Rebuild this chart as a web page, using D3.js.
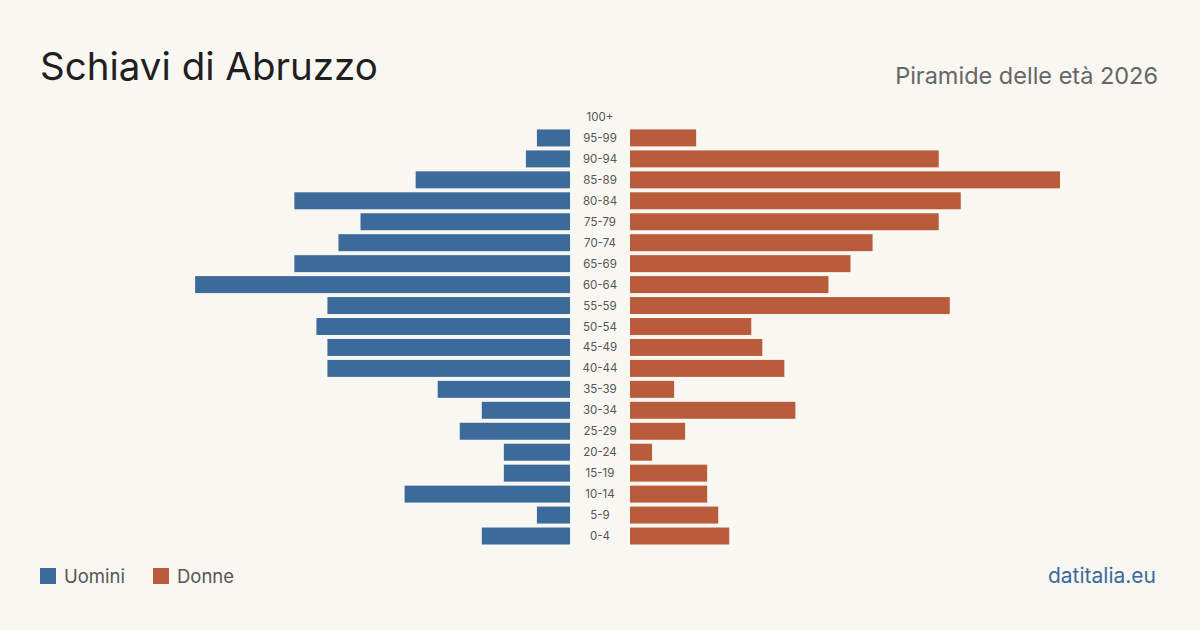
<!DOCTYPE html>
<html><head><meta charset="utf-8">
<script src="https://cdn.jsdelivr.net/npm/d3@7"></script>
<style>body{margin:0;background:#f9f7f2;font-family:Inter,"Noto Sans",sans-serif}</style>
</head><body><svg id="c" width="1200" height="630"></svg>
<script>
const ageGroups = ["100+","95-99","90-94","85-89","80-84","75-79","70-74","65-69","60-64","55-59","50-54","45-49","40-44","35-39","30-34","25-29","20-24","15-19","10-14","5-9","0-4"];
const men =   [0,3,4,14,25,19,21,25,34,22,23,22,22,12,8,10,6,6,15,3,8];
const women = [0,6,28,39,30,28,22,20,18,29,11,12,14,4,15,5,2,7,7,8,9];

const svg = d3.select("#c");
svg.append("rect").attr("width",1200).attr("height",630).attr("fill","#f9f7f2");

const y = d3.scaleBand().domain(ageGroups).range([108.5, 544.5]).paddingInner(0.19);
const xL = d3.scaleLinear().domain([0, 39]).range([570, 140]);
const xR = d3.scaleLinear().domain([0, 39]).range([630, 1060]);

svg.append("g").selectAll("rect").data(ageGroups).join("rect")
  .attr("x", (d,i) => xL(men[i])).attr("y", d => y(d))
  .attr("width", (d,i) => xL(0) - xL(men[i])).attr("height", y.bandwidth())
  .attr("fill", "#3b6a9b");
svg.append("g").selectAll("rect").data(ageGroups).join("rect")
  .attr("x", xR(0)).attr("y", d => y(d))
  .attr("width", (d,i) => xR(women[i]) - xR(0)).attr("height", y.bandwidth())
  .attr("fill", "#b95c3c");
svg.append("g").selectAll("text").data(ageGroups).join("text")
  .attr("x", 600).attr("y", d => y(d) + y.bandwidth()/2).attr("dy","0.35em")
  .attr("text-anchor","middle").attr("font-size",11.5).attr("fill","#555").text(d => d);

svg.append("text").attr("x",40).attr("y",80).attr("font-size",38.5).attr("fill","#1f1f1f").text("Schiavi di Abruzzo");
svg.append("text").attr("x",1158).attr("y",84).attr("text-anchor","end").attr("font-size",23.5).attr("fill","#666").text("Piramide delle età 2026");

const legend = [["Uomini","#3b6a9b",40],["Donne","#b95c3c",153]];
legend.forEach(([t,c,x]) => {
  svg.append("rect").attr("x",x).attr("y",568).attr("width",16).attr("height",16).attr("fill",c);
  svg.append("text").attr("x",x+24).attr("y",583).attr("font-size",18.5).attr("fill","#555").text(t);
});
svg.append("text").attr("x",1156).attr("y",583).attr("text-anchor","end").attr("font-size",21).attr("fill","#3b6a9b").text("datitalia.eu");
</script></body></html>
